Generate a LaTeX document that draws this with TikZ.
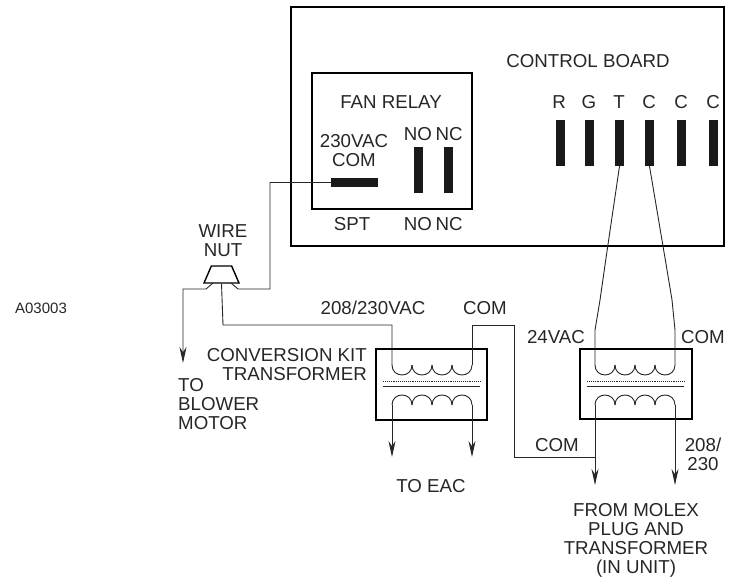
\documentclass[tikz,border=0pt]{standalone}
\usepackage{fontspec}
\setmainfont{Liberation Sans}
\usetikzlibrary{arrows.meta,shapes.geometric}
\tikzset{
  caption/.style={font=\fontsize{18.7}{19}\selectfont,align=center,inner sep=0pt,text=black!85},
  heavy/.style={draw,line width=2.2pt,inner sep=0pt},
  wire/.style={line width=0.9pt,black!85},
  lead/.style={wire,-{Stealth[length=16pt,width=7pt]}},
  vpin/.style={fill=black!90,inner sep=0pt,minimum width=9pt,minimum height=46pt},
  hpin/.style={fill=black!90,inner sep=0pt,minimum width=47pt,minimum height=9pt}
}
\begin{document}
\begin{tikzpicture}[x=1pt,y=-1pt]
  \useasboundingbox (0,0) rectangle (730,583);
  % boxes
  \node[heavy,minimum width=433pt,minimum height=239pt] (board) at (507.5,126.5) {};
  \node[heavy,minimum width=160pt,minimum height=136pt] (relay) at (392,141) {};
  \node[heavy,minimum width=111pt,minimum height=71pt] (kit) at (431.5,384.5) {};
  \node[heavy,minimum width=112pt,minimum height=70pt] (unit) at (636,384) {};
  \node[draw,line width=1.4pt,trapezium,trapezium angle=70,trapezium stretches=true,inner sep=1pt,
        minimum width=35pt,minimum height=17pt] (nut) at (221.5,274.5) {};
  % terminals
  \foreach \name/\x in {r/560,g/589.5,t/619.5,c1/649.5,c2/681.5,c3/713.5}
    \node[vpin] (\name) at (\x,143) {};
  \node[vpin] (no) at (418.5,170) {};
  \node[vpin] (nc) at (448.5,170) {};
  \node[hpin] (spt) at (354.5,182.5) {};
  % transformers
  \foreach \x in {392,412,432,452,595,615,635,655} {
    \draw[wire] (\x,365) .. controls (\x,378.3) and (\x+20,378.3) .. (\x+20,365);
    \draw[wire] (\x,405) .. controls (\x,391.7) and (\x+20,391.7) .. (\x+20,405);
  }
  \draw[wire,densely dotted] (383,381) -- (480,381);
  \draw[wire] (383,386) -- (480,386);
  \draw[wire,densely dotted] (587,381) -- (684,381);
  \draw[wire] (587,386) -- (684,386);
  % wiring
  \coordinate (tu) at (595,365);
  \coordinate (cu) at (675,365);
  \draw[wire] (t.south) -- (606,258) -- (600,300) -- (595,330) -- (tu);
  \draw[wire] (c1.south) -- (665,258) -- (672,300) -- (675,330) -- (cu);
  \draw[wire] (spt.west) -- (270,182.5) -- (270,289) -- (238,289) -- (231,283);
  \draw[wire] (nut.south) -- (223,325) -- (392,325) -- (392,365);
  \draw[lead] (213,283) -- (206,289) -- (183,289) -- (183,363);
  \draw[wire] (472,365) -- (472,325) -- (514,325) -- (514,457) -- (595,457);
  \draw[lead] (392,405) -- (392,457);
  \draw[lead] (472,405) -- (472,457);
  \draw[lead] (595,405) -- (595,485);
  \draw[lead] (675,405) -- (675,485);
  % labels
  \node[caption] (boardlabel) at (588,61) {CONTROL BOARD};
  \node[caption] (relaylabel) at (391,102) {FAN RELAY};
  \foreach \name/\x/\txt in {lr/559/R,lg/589/G,lt/619/T,lc1/649/C,lc2/681/C,lc3/713/C}
    \node[caption] (\name) at (\x,102) {\txt};
  \node[caption] (lno) at (418,134) {NO};
  \node[caption] (lnc) at (449,134) {NC};
  \node[caption] (lspt) at (354,150.5) {230VAC\\COM};
  \node[caption] (lsp) at (352,224) {SPT};
  \node[caption] (lno2) at (418,224) {NO};
  \node[caption] (lnc2) at (449,224) {NC};
  \node[caption] (lnut) at (223,240.5) {WIRE\\NUT};
  \node[caption,font=\fontsize{15}{16}\selectfont] (code) at (41,308) {A03003};
  \node[caption] (lprim) at (373,308) {208/230VAC};
  \node[caption] (lcom) at (485,308) {COM};
  \node[caption,align=right,anchor=east] (lkit) at (367,365) {CONVERSION KIT\\TRANSFORMER};
  \node[caption,align=left,anchor=west] (lblow) at (178,404) {TO\\BLOWER\\MOTOR};
  \node[caption] (l24) at (556,337) {24VAC};
  \node[caption] (lcom2) at (703,337) {COM};
  \node[caption] (lcom3) at (557,445) {COM};
  \node[caption] (l208) at (703,454.5) {208/\\230};
  \node[caption] (leac) at (431,486) {TO EAC};
  \node[caption] (lmolex) at (636,540.5) {FROM MOLEX\\PLUG AND\\TRANSFORMER\\(IN UNIT)};
\end{tikzpicture}
\end{document}
